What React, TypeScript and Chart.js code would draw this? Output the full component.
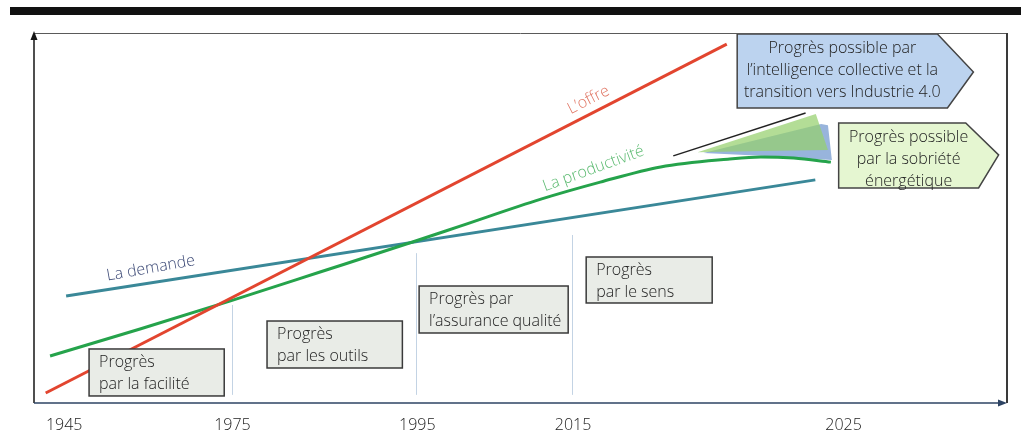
import React, { useEffect, useRef } from "react";
import { Chart, registerables } from "chart.js";

Chart.register(...registerables);

// ---- Data (timeline position 0-100 along the axis, level 0-100) ----
const yearLabels = ["1945", "1975", "1995", "2015", "2025"];
const yearPositions = [3.1, 20.4, 39.4, 55.4, 83.2];

const offreX = [1.2, 71.2];
const offreY = [2.7, 97.0];

const demandeX = [3.3, 80.3];
const demandeY = [28.9, 60.3];

const productiviteX = [1.65, 10.9, 20.2, 29.4, 38.9, 43.8, 52.1, 58.2, 64.4, 71.3, 74.7, 78.1, 81.9];
const productiviteY = [12.7, 20.0, 27.6, 35.4, 43.5, 47.8, 55.1, 59.7, 63.8, 65.9, 66.5, 66.2, 65.1];

const trendX = [65.7, 79.3];
const trendY = [66.8, 78.4];

const fanGreenX = [68.2, 80.35, 81.6, 74.7];
const fanGreenY = [67.8, 78.1, 68.4, 68.1];
const fanBlueX = [68.8, 80.9, 81.6, 82.0, 74.7];
const fanBlueY = [67.6, 75.4, 75.1, 65.7, 66.8];

const dividerX = [20.4, 39.3, 55.25];
const dividerTop = [26.5, 40.5, 45.4];
const dividerBottom = [2.2, 2.2, 2.2];

const stageLabels = [
  ["Progrès", "par la facilité"],
  ["Progrès", "par les outils"],
  ["Progrès par", "l’assurance qualité"],
  ["Progrès", "par le sens"],
];
const stageBoxX1 = [5.66, 23.95, 39.58, 56.75];
const stageBoxX2 = [19.55, 37.86, 54.9, 69.7];
const stageBoxTop = [14.6, 22.16, 31.62, 39.46];
const stageBoxBottom = [1.9, 9.46, 18.92, 27.03];

const futureLabels = [
  ["Progrès possible par", "l’intelligence collective et la", "transition vers Industrie 4.0"],
  ["Progrès possible", "par la sobriété", "énergétique"],
];
const futureShapeX = [
  [72.27, 92.85, 96.55, 93.88, 72.27],
  [82.7, 95.76, 99.14, 97.08, 82.7],
];
const futureShapeY = [
  [99.73, 99.73, 89.46, 79.73, 79.73],
  [75.68, 75.68, 67.03, 58.11, 58.11],
];

const seriesLabels = ["L’offre", "La productivité", "La demande"];
const seriesLabelX = [57.0, 57.5, 12.0];
const seriesLabelY = [81.9, 63.3, 36.4];
const seriesLabelAngle = [-27, -20, -10];

const FONT = "'Open Sans', Lato, sans-serif";
const W = "300";

const pts = (xs: number[], ys: number[]) => xs.map((x, i) => ({ x, y: ys[i] }));

const decorPlugin = {
  id: "decor",
  beforeDatasetsDraw(chart: any) {
    const { ctx, scales } = chart;
    const X = (v: number) => scales.x.getPixelForValue(v);
    const Y = (v: number) => scales.y.getPixelForValue(v);
    ctx.save();
    ctx.strokeStyle = "#c3d3e4";
    ctx.lineWidth = 1;
    dividerX.forEach((dx, i) => {
      ctx.beginPath();
      ctx.moveTo(Math.round(X(dx)) + 0.5, Y(dividerTop[i]));
      ctx.lineTo(Math.round(X(dx)) + 0.5, Y(dividerBottom[i]));
      ctx.stroke();
    });
    const poly = (xs: number[], ys: number[], fill: string) => {
      ctx.beginPath();
      xs.forEach((x, i) => (i === 0 ? ctx.moveTo(X(x), Y(ys[i])) : ctx.lineTo(X(x), Y(ys[i]))));
      ctx.closePath();
      ctx.fillStyle = fill;
      ctx.fill();
    };
    poly(fanBlueX, fanBlueY, "#98b4dc");
    poly(fanGreenX, fanGreenY, "rgba(150,208,110,0.72)");
    ctx.restore();
  },
  afterDatasetsDraw(chart: any) {
    const { ctx, scales } = chart;
    const X = (v: number) => scales.x.getPixelForValue(v);
    const Y = (v: number) => scales.y.getPixelForValue(v);
    ctx.save();
    ctx.font = `${W} 16px ${FONT}`;
    ctx.textBaseline = "middle";
    stageLabels.forEach((lines, i) => {
      const x1 = X(stageBoxX1[i]);
      const x2 = X(stageBoxX2[i]);
      const y1 = Y(stageBoxTop[i]);
      const y2 = Y(stageBoxBottom[i]);
      ctx.fillStyle = "#e9ece7";
      ctx.fillRect(x1, y1, x2 - x1, y2 - y1);
      ctx.strokeStyle = "#3a3a3a";
      ctx.lineWidth = 1.5;
      ctx.strokeRect(x1, y1, x2 - x1, y2 - y1);
      ctx.fillStyle = "#222";
      ctx.textAlign = "left";
      lines.forEach((t, j) => ctx.fillText(t, x1 + 10, y1 + 13 + j * 22));
    });
    const fills = ["#bcd3ef", "#e5f6d1"];
    futureLabels.forEach((lines, i) => {
      const xs = futureShapeX[i];
      const ys = futureShapeY[i];
      ctx.beginPath();
      xs.forEach((x, k) => (k === 0 ? ctx.moveTo(X(x), Y(ys[k])) : ctx.lineTo(X(x), Y(ys[k]))));
      ctx.closePath();
      ctx.fillStyle = fills[i];
      ctx.fill();
      ctx.strokeStyle = "#444";
      ctx.lineWidth = 1.5;
      ctx.stroke();
      const cx = (X(xs[0]) + X(xs[3])) / 2;
      const top = Y(ys[0]);
      ctx.fillStyle = "#222";
      ctx.textAlign = "center";
      lines.forEach((t, j) => ctx.fillText(t, cx, top + 14 + j * 22));
    });
    const colors = ["#e07563", "#5dbb72", "#3f4c78"];
    seriesLabels.forEach((t, i) => {
      ctx.save();
      ctx.translate(X(seriesLabelX[i]), Y(seriesLabelY[i]));
      ctx.rotate((seriesLabelAngle[i] * Math.PI) / 180);
      ctx.fillStyle = colors[i];
      ctx.textAlign = "center";
      ctx.font = `${W} 16px ${FONT}`;
      ctx.fillText(t, 0, 0);
      ctx.restore();
    });
    ctx.restore();
  },
  afterDraw(chart: any) {
    const { ctx, chartArea, scales } = chart;
    const { left, right, top, bottom } = chartArea;
    ctx.save();
    ctx.fillStyle = "#111";
    ctx.fillRect(10, 7, chart.width - 10, 8);
    ctx.strokeStyle = "#5a5a5a";
    ctx.lineWidth = 1;
    ctx.beginPath();
    ctx.moveTo(left, top + 0.5);
    ctx.lineTo(right, top + 0.5);
    ctx.stroke();
    ctx.strokeStyle = "#3a3a3a";
    ctx.lineWidth = 2;
    ctx.beginPath();
    ctx.moveTo(right, top);
    ctx.lineTo(right, bottom);
    ctx.stroke();
    ctx.strokeStyle = "#151515";
    ctx.lineWidth = 1.5;
    ctx.beginPath();
    ctx.moveTo(left, bottom);
    ctx.lineTo(left, top + 4);
    ctx.stroke();
    ctx.fillStyle = "#151515";
    ctx.beginPath();
    ctx.moveTo(left, top - 2);
    ctx.lineTo(left - 3.5, top + 7);
    ctx.lineTo(left + 3.5, top + 7);
    ctx.closePath();
    ctx.fill();
    ctx.strokeStyle = "#2d4363";
    ctx.lineWidth = 1.5;
    ctx.beginPath();
    ctx.moveTo(left, bottom);
    ctx.lineTo(right - 6, bottom);
    ctx.stroke();
    ctx.fillStyle = "#2d4363";
    ctx.beginPath();
    ctx.moveTo(right, bottom);
    ctx.lineTo(right - 9, bottom - 3.5);
    ctx.lineTo(right - 9, bottom + 3.5);
    ctx.closePath();
    ctx.fill();
    ctx.fillStyle = "#222";
    ctx.font = `${W} 16px ${FONT}`;
    ctx.textAlign = "center";
    ctx.textBaseline = "middle";
    yearLabels.forEach((t, i) => ctx.fillText(t, scales.x.getPixelForValue(yearPositions[i]), bottom + 22));
    ctx.restore();
  },
};

export default function App() {
  const ref = useRef<HTMLCanvasElement>(null);
  useEffect(() => {
    document.body.style.margin = "0";
    const canvas = ref.current;
    if (!canvas) return;
    const chart = new Chart(canvas, {
      type: "line",
      data: {
        datasets: [
          {
            label: "L’offre",
            data: pts(offreX, offreY),
            borderColor: "#e2452f",
            borderWidth: 3,
            pointRadius: 0,
          },
          {
            label: "La productivité",
            data: pts(productiviteX, productiviteY),
            borderColor: "#25a34b",
            borderWidth: 3,
            pointRadius: 0,
            cubicInterpolationMode: "monotone",
          },
          {
            label: "La demande",
            data: pts(demandeX, demandeY),
            borderColor: "#3a8898",
            borderWidth: 3,
            pointRadius: 0,
          },
          {
            label: "trend",
            data: pts(trendX, trendY),
            borderColor: "#222",
            borderWidth: 1.5,
            pointRadius: 0,
          },
        ],
      },
      options: {
        responsive: false,
        animation: false,
        devicePixelRatio: 1,
        layout: { padding: { left: 34, right: 14, top: 33, bottom: 31 } },
        plugins: { legend: { display: false }, tooltip: { enabled: false } },
        scales: {
          x: { type: "linear", min: 0, max: 100, display: false },
          y: { type: "linear", min: 0, max: 100, display: false },
        },
      },
      plugins: [decorPlugin],
    } as any);
    return () => chart.destroy();
  }, []);
  return (
    <div style={{ width: 1021, height: 434, background: "#fff" }}>
      <canvas ref={ref} width={1021} height={434} style={{ display: "block" }} />
    </div>
  );
}
